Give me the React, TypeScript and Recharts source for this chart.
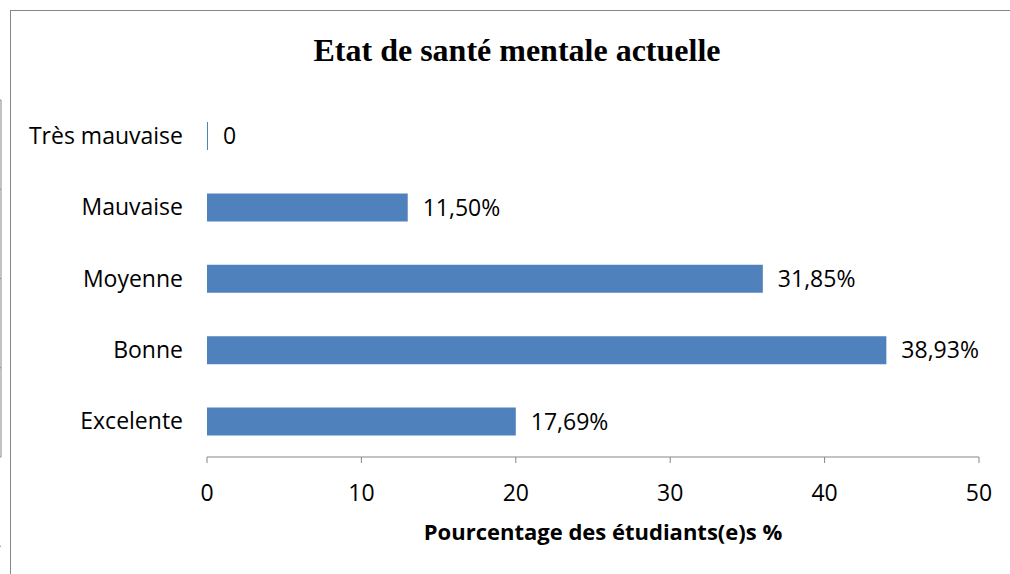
import React from "react"
import { BarChart, Bar, XAxis, YAxis, LabelList } from "recharts"

const categories = ["Très mauvaise", "Mauvaise", "Moyenne", "Bonne", "Excelente"]
const barValues = [0, 13, 36, 44, 20]
const valueLabels = ["0", "11,50%", "31,85%", "38,93%", "17,69%"]
const xTicks = [0, 10, 20, 30, 40, 50]
const bandEdges = [0, 1, 2, 3, 4, 5]

const data = categories.map((name, i) => ({
  name,
  value: barValues[i],
  label: valueLabels[i],
}))

const axisColor = "#868686"
const font = "'Open Sans', sans-serif"

export default function App() {
  return (
    <div style={{ position: "absolute", left: 0, top: 0, width: 1010, height: 574, background: "#fff", overflow: "hidden" }}>
      <div
        style={{
          position: "absolute",
          left: 10,
          top: 10,
          width: 1100,
          height: 700,
          borderTop: `1px solid ${axisColor}`,
          borderLeft: `1px solid ${axisColor}`,
        }}
      />
      <div
        style={{
          position: "absolute",
          left: 0,
          width: 1034,
          top: 30,
          textAlign: "center",
          fontFamily: "'Liberation Serif', serif",
          fontWeight: "bold",
          fontSize: 32,
          lineHeight: "40px",
        }}
      >
        Etat de santé mentale actuelle
      </div>
      <BarChart
        width={1010}
        height={574}
        data={data}
        layout="vertical"
        margin={{ top: 100, right: 31, left: 0, bottom: 57 }}
        style={{ position: "absolute", left: 0, top: 0 }}
      >
        <XAxis
          type="number"
          domain={[0, 50]}
          ticks={xTicks}
          stroke={axisColor}
          tickSize={6}
          tickMargin={22}
          tick={{ fill: "#000", fontSize: 23, fontFamily: font }}
          height={60}
        />
        <YAxis
          yAxisId="grid"
          type="number"
          domain={[0, 5]}
          ticks={bandEdges}
          width={1}
          stroke={axisColor}
          tickSize={6}
          tick={() => <g />}
        />
        <YAxis
          yAxisId="cat"
          type="category"
          dataKey="name"
          width={206}
          axisLine={false}
          tickLine={false}
          tickSize={0}
          tickMargin={24}
          tick={{ fill: "#000", fontSize: 23, fontFamily: font }}
        />
        <Bar yAxisId="cat" dataKey="value" fill="#4F81BD" barSize={28} minPointSize={1} isAnimationActive={false}>
          <LabelList
            dataKey="label"
            position="right"
            offset={15}
            style={{ fill: "#000", fontSize: 23, fontFamily: font }}
          />
        </Bar>
      </BarChart>
      <div
        style={{
          position: "absolute",
          left: 403,
          width: 400,
          top: 516,
          textAlign: "center",
          fontFamily: font,
          fontWeight: "bold",
          fontSize: 22,
          lineHeight: "30px",
        }}
      >
        Pourcentage des étudiants(e)s %
      </div>
    </div>
  )
}
